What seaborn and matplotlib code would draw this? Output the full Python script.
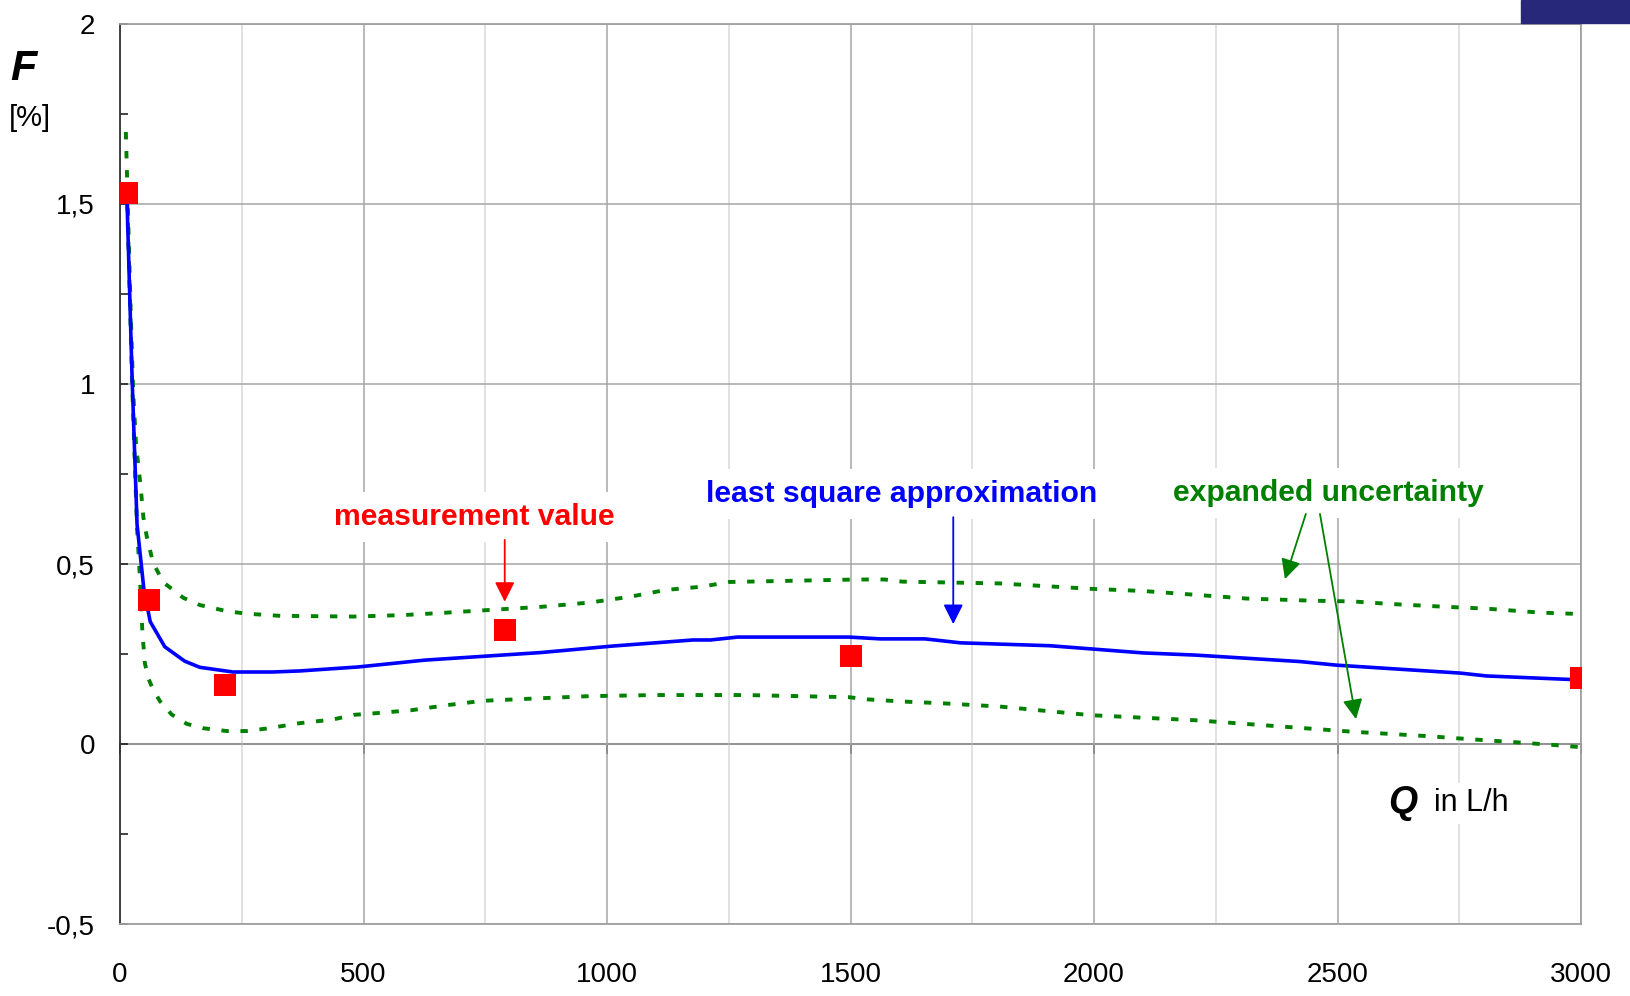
import numpy as np
import pandas as pd
import seaborn as sns
import matplotlib.pyplot as plt
from matplotlib.patches import Rectangle

sns.set_theme(style='white')
plt.rcParams['font.family'] = ['Liberation Sans', 'DejaVu Sans']
plt.rcParams['text.color'] = 'black'

# measurement values (red squares)
meas_q = [14, 60, 215, 790, 1500, 3000]
meas_f = [1.53, 0.40, 0.165, 0.317, 0.245, 0.183]

# least square approximation (blue)
fit_q = [14, 25, 35, 49, 62, 92, 133, 164, 232, 314, 370, 489, 626, 864, 1011,
         1177, 1213, 1268, 1497, 1561, 1653, 1726, 1909, 2101, 2208, 2423,
         2498, 2752, 2806, 3000]
fit_f = [1.53, 1.01, 0.61, 0.43, 0.34, 0.27, 0.23, 0.213, 0.20, 0.20, 0.203,
         0.214, 0.233, 0.254, 0.272, 0.289, 0.289, 0.297, 0.297, 0.292, 0.292,
         0.281, 0.273, 0.253, 0.247, 0.229, 0.219, 0.197, 0.189, 0.178]

# expanded uncertainty, upper bound (green)
up_q = [12, 17, 22, 27, 33, 42, 48, 55, 68, 89, 130, 164, 219, 260, 329, 480,
        580, 672, 755, 865, 965, 1047, 1121, 1195, 1250, 1515, 1570, 1607,
        1807, 1994, 2101, 2314, 2450, 2532, 2608, 2724, 2806, 2916, 3000]
up_f = [1.70, 1.45, 1.20, 0.98, 0.83, 0.72, 0.63, 0.576, 0.503, 0.449, 0.406,
        0.386, 0.369, 0.362, 0.356, 0.354, 0.358, 0.365, 0.372, 0.381, 0.393,
        0.409, 0.428, 0.437, 0.45, 0.457, 0.457, 0.451, 0.446, 0.431, 0.425,
        0.404, 0.398, 0.396, 0.389, 0.381, 0.376, 0.365, 0.361]

# expanded uncertainty, lower bound (green)
lo_q = [15, 20, 25, 30, 35, 41, 46, 51, 58, 68, 82, 106, 137, 170, 219, 260,
        301, 370, 437, 480, 520, 599, 672, 745, 828, 965, 1103, 1285, 1497,
        1534, 1607, 1690, 1807, 1994, 2208, 2421, 2532, 2608, 2683, 2765,
        2875, 2957, 3000]
lo_f = [1.50, 1.25, 1.00, 0.80, 0.60, 0.46, 0.31, 0.225, 0.183, 0.151, 0.119,
        0.082, 0.056, 0.044, 0.036, 0.036, 0.043, 0.058, 0.068, 0.081, 0.085,
        0.094, 0.108, 0.12, 0.125, 0.133, 0.136, 0.136, 0.13, 0.124, 0.118,
        0.113, 0.104, 0.08, 0.066, 0.045, 0.034, 0.028, 0.022, 0.014, 0.004,
        -0.004, -0.009]

yticks = [-0.5, 0, 0.5, 1, 1.5, 2]
ytick_labels = ['-0,5', '0', '0,5', '1', '1,5', '2']
xticks = [0, 500, 1000, 1500, 2000, 2500, 3000]

fig = plt.figure(figsize=(16.3, 9.96), dpi=100)
ax = fig.add_axes([120 / 1630, 1 - 924 / 996, 1461 / 1630, 900 / 996])

green = '#008000'
for q, f in [(up_q, up_f), (lo_q, lo_f)]:
    sns.lineplot(x=q, y=f, ax=ax, color=green, lw=2.8, sort=False,
                 zorder=3).lines[-1].set_dashes((1.9, 3.0))
sns.lineplot(x=fit_q, y=fit_f, ax=ax, color='#0000ff', lw=2.6, sort=False,
             zorder=4)
sns.scatterplot(x=meas_q, y=meas_f, ax=ax, marker='s', s=250, color='#ff0000',
                linewidth=0, zorder=5)

ax.set_xlim(0, 3000)
ax.set_ylim(-0.5, 2)

# grid
ax.set_xticks(xticks)
ax.set_xticks(np.arange(250, 3000, 500), minor=True)
ax.set_yticks(yticks)
ax.set_yticks(np.arange(-0.25, 2, 0.5), minor=True)
ax.set_yticklabels(ytick_labels)
ax.grid(True, which='major', axis='x', color='#a6a6a6', lw=1.1)
ax.grid(True, which='minor', axis='x', color='#d9d9d9', lw=1.1)
ax.grid(True, which='major', axis='y', color='#a6a6a6', lw=1.1)
ax.set_axisbelow(True)

ax.tick_params(axis='x', which='both', length=0, pad=27, labelsize=20,
               labelcolor='black')
ax.tick_params(axis='y', which='both', direction='in', length=6, width=1.2,
               color='#222222', pad=18, labelsize=20, labelcolor='black',
               left=True)

for s in ['top', 'right', 'bottom']:
    ax.spines[s].set_color('#a0a0a0')
    ax.spines[s].set_linewidth(1.3)
ax.spines['left'].set_color('#333333')
ax.spines['left'].set_linewidth(1.3)

# x axis line at F = 0 with downward ticks
sec = ax.secondary_xaxis(0.2)
sec.set_xticks(xticks)
sec.set_xticklabels([])
sec.tick_params(direction='out', length=7, width=1.2, color='#222222')
sec.spines['bottom'].set_color('#333333')
sec.spines['bottom'].set_linewidth(1.2)

# axis titles
fig.text(23 / 1630, 1 - 69 / 996, 'F', fontsize=31, fontweight='bold',
         fontstyle='italic', ha='center', va='center')
fig.text(30 / 1630, 1 - 118 / 996, '[%]', fontsize=21, ha='center',
         va='center')
ax.text(2634, -0.165, 'Q', fontsize=27, fontweight='bold', fontstyle='italic',
        ha='center', va='center', zorder=6,
        bbox=dict(facecolor='white', edgecolor='none', pad=2))
ax.text(2774, -0.165, 'in L/h', fontsize=22, ha='center', va='center',
        zorder=6, bbox=dict(facecolor='white', edgecolor='none', pad=4))

# annotations
ax.text(728, 0.63, 'measurement value', color='#ff0000', fontsize=21.7,
        fontweight='bold', ha='center', va='center', zorder=6,
        bbox=dict(facecolor='white', edgecolor='none', pad=8))
ax.text(1606, 0.695, 'least square approximation', color='#0000ff',
        fontsize=21.7, fontweight='bold', ha='center', va='center', zorder=6,
        bbox=dict(facecolor='white', edgecolor='none', pad=8))
ax.text(2482, 0.698, 'expanded uncertainty', color=green, fontsize=21.7,
        fontweight='bold', ha='center', va='center', zorder=6,
        bbox=dict(facecolor='white', edgecolor='none', pad=8))

arr = '-|>,head_length=0.6,head_width=0.3'
ax.annotate('', xy=(790, 0.395), xytext=(790, 0.567), zorder=7,
            arrowprops=dict(arrowstyle=arr, color='#ff0000', lw=1.3,
                            mutation_scale=20, shrinkA=0, shrinkB=0))
ax.annotate('', xy=(1711, 0.333), xytext=(1711, 0.63), zorder=7,
            arrowprops=dict(arrowstyle=arr, color='#0000ff', lw=1.3,
                            mutation_scale=20, shrinkA=0, shrinkB=0))
ax.annotate('', xy=(2392, 0.458), xytext=(2435, 0.639), zorder=7,
            arrowprops=dict(arrowstyle=arr, color=green, lw=1.3,
                            mutation_scale=20, shrinkA=0, shrinkB=0))
ax.annotate('', xy=(2538, 0.069), xytext=(2464, 0.639), zorder=7,
            arrowprops=dict(arrowstyle=arr, color=green, lw=1.3,
                            mutation_scale=20, shrinkA=0, shrinkB=0))

# slide decoration top right
fig.patches.append(Rectangle((1521 / 1630, 1 - 23 / 996), 109 / 1630, 23 / 996,
                             transform=fig.transFigure, color='#28287a'))

fig.savefig('out.png', dpi=100)
